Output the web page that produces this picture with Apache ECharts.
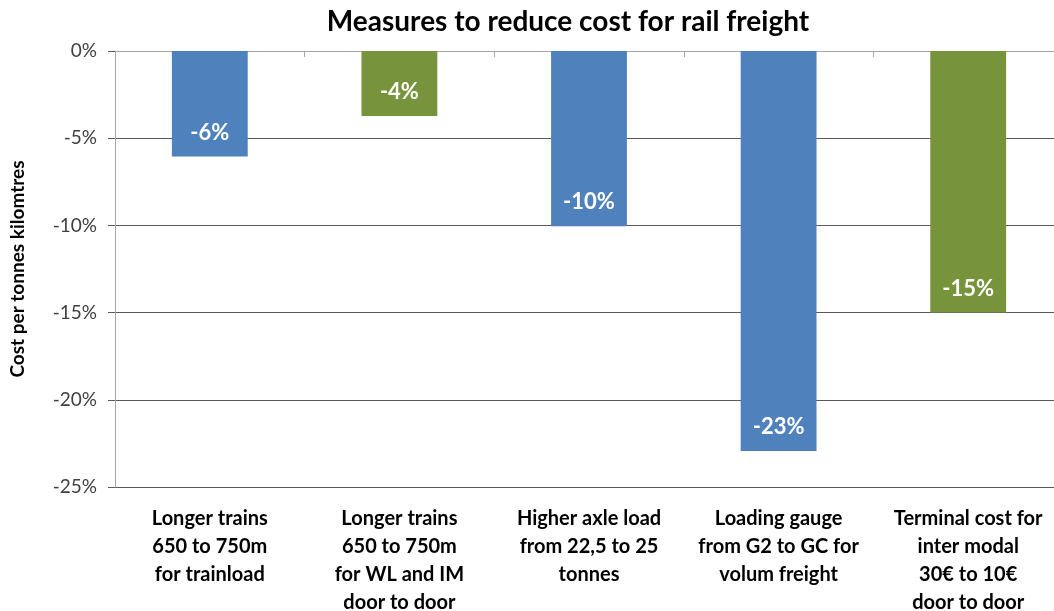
<!DOCTYPE html>
<html><head><meta charset="utf-8">
<script src="https://cdn.jsdelivr.net/npm/echarts@6/dist/echarts.min.js"></script>
<style>html,body{margin:0;padding:0;background:#fff}#c{width:1054px;height:611px}</style>
</head><body><div id="c"></div>
<script>
var categories = ["Longer trains\n650 to 750m\nfor trainload","Longer trains\n650 to 750m\nfor WL and IM\ndoor to door","Higher axle load\nfrom 22,5 to 25\ntonnes","Loading gauge\nfrom G2 to GC for\nvolum freight","Terminal cost for\ninter modal\n30€ to 10€\ndoor to door"];
var values = [-6.05, -3.73, -10.05, -22.93, -15.0];
var barColors = ["#4F81BD","#77933C","#4F81BD","#4F81BD","#77933C"];
var yTicks = [0, -5, -10, -15, -20, -25];
var font = "Lato, 'Open Sans', sans-serif";
var chart = echarts.init(document.getElementById('c'));
chart.setOption({
  animation:false,
  title:{text:"Measures to reduce cost for rail freight",left:563,top:3,textAlign:'center',
    textStyle:{fontFamily:font,fontWeight:'bold',fontSize:28,color:'#000'}},
  grid:{left:115,top:51,width:948,height:436,containLabel:false,outerBoundsMode:'none'},
  xAxis:[{type:'category',data:categories,position:'bottom',
    axisLine:{show:false},axisTick:{show:false},
    axisLabel:{fontFamily:font,fontWeight:'bold',fontSize:20,color:'#000',lineHeight:28,margin:18,interval:0}},
   {type:'category',data:categories,position:'top',
    axisLine:{show:true,lineStyle:{color:'#A6A6A6',width:1}},
    axisTick:{show:true,inside:true,length:6,lineStyle:{color:'#A6A6A6'}},
    axisLabel:{show:false}}],
  yAxis:{type:'value',min:-25,max:0,interval:5,
    name:"Cost per tonnes kilomtres",nameLocation:'middle',nameRotate:90,nameGap:88,
    nameTextStyle:{fontFamily:font,fontWeight:'bold',fontSize:19,color:'#000'},
    axisLine:{show:true,lineStyle:{color:'#A6A6A6'}},
    axisTick:{show:true,length:7,lineStyle:{color:'#595959'}},
    splitLine:{show:true,lineStyle:{color:'#595959',width:1}},
    axisLabel:{fontFamily:font,fontSize:19,color:'#404040',margin:18,formatter:function(v){return v+'%';}}},
  series:[{type:'bar',data:values.map(function(v,i){return {value:v,itemStyle:{color:barColors[i]}};}),
    barWidth:'40%',
    label:{show:true,position:'insideBottom',distance:13,color:'#fff',fontFamily:font,fontWeight:'bold',fontSize:22,
      formatter:function(p){return Math.round(p.value)+'%';}}}]
});
</script></body></html>
